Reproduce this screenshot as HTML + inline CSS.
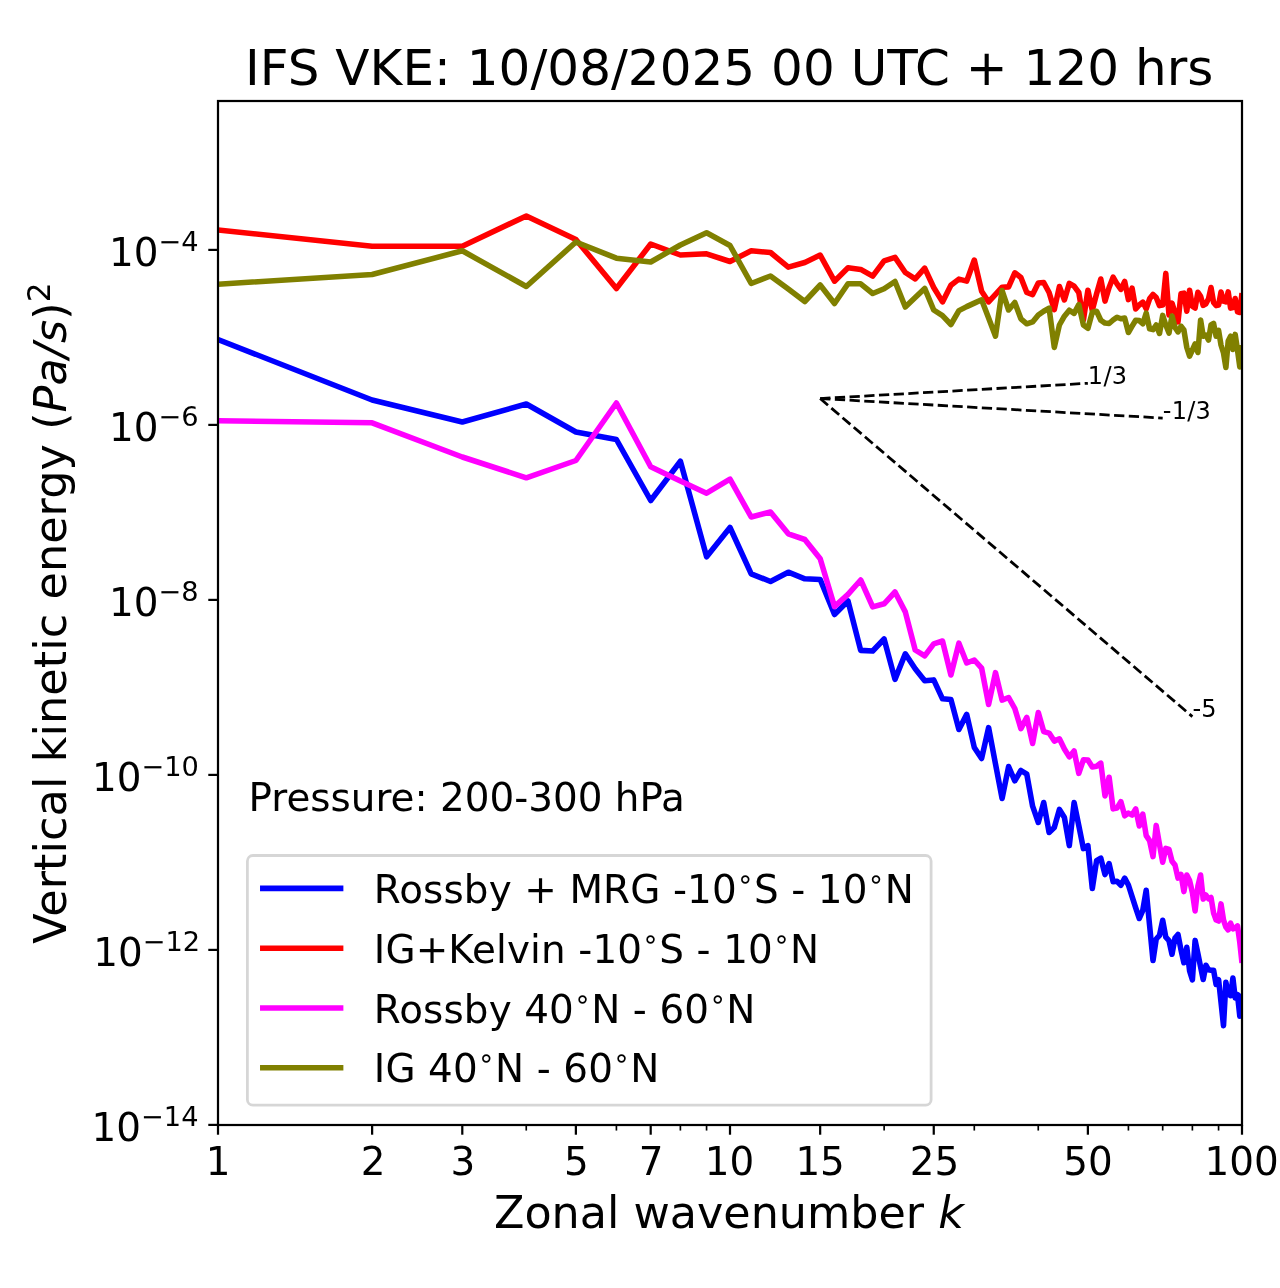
<!DOCTYPE html><html><head><meta charset="utf-8"><title>IFS VKE</title>
<style>html,body{margin:0;padding:0;background:#fff}svg{display:block}text{font-family:"DejaVu Sans","Liberation Sans",sans-serif;fill:#000}.it{font-style:italic}</style></head><body>
<svg width="1280" height="1288" viewBox="0 0 1280 1288">
<rect width="1280" height="1288" fill="#fff"/>
<defs><clipPath id="c"><rect x="218" y="101" width="1024" height="1024"/></clipPath></defs>
<g clip-path="url(#c)" fill="none" stroke-linejoin="round" stroke-linecap="butt">
<polyline points="218.0,339.5 372.1,400.0 462.3,422.0 526.3,404.0 575.9,432.0 616.4,439.5 650.7,500.5 680.4,461.2 706.6,556.8 730.0,527.5 751.2,573.8 770.5,581.5 788.3,572.2 804.8,578.8 820.2,579.5 834.5,614.5 848.0,601.0 860.7,650.4 872.7,651.0 884.1,639.0 895.0,679.4 905.3,653.8 915.2,668.8 924.7,680.8 933.7,679.9 942.5,698.8 950.9,699.4 958.9,729.5 966.7,714.4 974.3,747.5 981.6,758.5 988.6,727.6 995.5,764.0 1002.1,798.4 1008.6,766.5 1014.8,780.8 1020.9,770.5 1026.8,774.2 1032.6,806.2 1038.3,822.5 1043.7,802.5 1049.1,832.5 1054.3,827.5 1059.4,809.4 1064.4,817.5 1069.3,845.6 1074.1,802.5 1078.8,825.6 1083.4,848.6 1087.9,845.6 1092.3,888.5 1096.6,860.6 1100.8,858.1 1105.0,874.6 1109.1,863.5 1113.1,881.7 1117.0,881.2 1120.9,885.2 1124.7,878.1 1128.4,885.0 1132.1,896.6 1135.7,907.9 1139.3,918.5 1142.8,910.3 1146.2,890.2 1149.6,925.4 1153.0,960.5 1156.2,939.0 1159.5,935.3 1162.7,920.3 1165.8,937.2 1169.0,940.6 1172.0,954.3 1175.0,938.1 1178.0,934.5 1181.0,950.0 1183.9,962.8 1186.8,947.2 1189.6,971.0 1192.4,979.8 1195.1,940.4 1197.9,953.6 1200.6,967.0 1203.2,979.5 1205.9,965.2 1208.5,969.8 1211.0,970.3 1213.6,970.3 1216.1,984.4 1218.6,979.7 1221.0,1002.0 1223.5,1025.7 1225.9,982.2 1228.2,994.2 1230.6,995.7 1232.9,978.0 1235.2,998.0 1237.5,994.6 1239.8,1016.2 1242.0,993.5" stroke="#0000ff" stroke-width="5.56" />
<polyline points="218.0,230.0 372.1,246.2 462.3,246.2 526.3,216.0 575.9,239.5 616.4,288.5 650.7,244.0 680.4,255.0 706.6,253.8 730.0,261.5 751.2,250.8 770.5,252.5 788.3,267.2 804.8,262.5 820.2,255.1 834.5,281.2 848.0,267.8 860.7,269.4 872.7,276.2 884.1,260.9 895.0,257.4 905.3,272.5 915.2,278.9 924.7,268.1 933.7,287.5 942.5,301.9 950.9,285.3 958.9,279.1 966.7,281.1 974.3,260.0 981.6,291.2 988.6,301.9 995.5,294.4 1002.1,287.2 1008.6,286.9 1014.8,272.8 1020.9,277.5 1026.8,292.5 1032.6,294.6 1038.3,283.1 1043.7,282.5 1049.1,292.5 1054.3,309.6 1059.4,286.5 1064.4,300.0 1069.3,283.4 1074.1,286.2 1078.8,292.5 1083.4,320.0 1087.9,290.2 1092.3,310.3 1096.6,293.8 1100.8,279.0 1105.0,301.1 1109.1,287.5 1113.1,277.2 1117.0,283.8 1120.9,289.4 1124.7,281.5 1128.4,299.6 1132.1,288.1 1135.7,309.0 1139.3,305.0 1142.8,302.1 1146.2,308.8 1149.6,298.8 1153.0,294.4 1156.2,297.5 1159.5,305.6 1162.7,305.0 1165.8,273.4 1169.0,315.0 1172.0,303.1 1175.0,312.5 1178.0,321.9 1181.0,293.8 1183.9,293.1 1186.8,311.2 1189.6,290.2 1192.4,306.2 1195.1,308.1 1197.9,292.2 1200.6,296.2 1203.2,305.4 1205.9,303.8 1208.5,298.8 1211.0,287.5 1213.6,302.5 1216.1,305.6 1218.6,305.0 1221.0,292.1 1223.5,301.2 1225.9,301.9 1228.2,291.9 1230.6,308.1 1232.9,307.5 1235.2,298.5 1237.5,311.9 1239.8,312.5 1242.0,293.0" stroke="#ff0000" stroke-width="5.56" />
<polyline points="218.0,420.8 372.1,422.8 462.3,457.0 526.3,477.8 575.9,460.5 616.4,403.0 650.7,466.8 680.4,481.0 706.6,493.2 730.0,479.2 751.2,517.0 770.5,512.0 788.3,533.8 804.8,539.5 820.2,558.8 834.5,606.6 848.0,594.4 860.7,580.0 872.7,606.9 884.1,603.8 895.0,592.0 905.3,611.9 915.2,650.0 924.7,655.9 933.7,643.8 942.5,641.0 950.9,675.0 958.9,643.2 966.7,663.0 974.3,660.0 981.6,668.1 988.6,704.5 995.5,672.6 1002.1,700.1 1008.6,697.5 1014.8,708.5 1020.9,728.6 1026.8,717.4 1032.6,743.5 1038.3,712.6 1043.7,731.6 1049.1,733.1 1054.3,741.1 1059.4,738.8 1064.4,749.0 1069.3,756.9 1074.1,750.9 1078.8,773.4 1083.4,759.8 1087.9,760.0 1092.3,766.9 1096.6,766.2 1100.8,763.1 1105.0,796.0 1109.1,777.2 1113.1,808.9 1117.0,808.1 1120.9,801.6 1124.7,815.8 1128.4,813.1 1132.1,815.0 1135.7,808.9 1139.3,826.0 1142.8,814.1 1146.2,835.6 1149.6,840.6 1153.0,856.6 1156.2,825.4 1159.5,844.5 1162.7,862.2 1165.8,848.4 1169.0,849.4 1172.0,861.2 1175.0,865.0 1178.0,878.1 1181.0,874.4 1183.9,891.6 1186.8,875.0 1189.6,880.6 1192.4,892.5 1195.1,910.9 1197.9,886.2 1200.6,875.0 1203.2,899.1 1205.9,895.0 1208.5,898.8 1211.0,897.5 1213.6,913.0 1216.1,920.0 1218.6,921.0 1221.0,903.9 1223.5,920.0 1225.9,927.0 1228.2,929.9 1230.6,923.2 1232.9,928.8 1235.2,928.0 1237.5,925.9 1239.8,942.4 1242.0,963.0" stroke="#ff00ff" stroke-width="5.56" />
<polyline points="218.0,284.2 372.1,274.5 462.3,250.8 526.3,286.5 575.9,242.0 616.4,258.2 650.7,262.0 680.4,245.0 706.6,232.8 730.0,245.5 751.2,283.5 770.5,276.0 788.3,289.0 804.8,301.5 820.2,285.0 834.5,303.5 848.0,283.8 860.7,283.8 872.7,293.5 884.1,288.8 895.0,281.5 905.3,307.0 915.2,297.5 924.7,288.4 933.7,310.0 942.5,315.6 950.9,324.5 958.9,310.6 966.7,306.6 974.3,303.1 981.6,299.8 988.6,318.0 995.5,336.2 1002.1,290.6 1008.6,310.0 1014.8,302.5 1020.9,318.8 1026.8,323.8 1032.6,321.9 1038.3,315.0 1043.7,311.2 1049.1,308.2 1054.3,347.5 1059.4,325.0 1064.4,316.2 1069.3,310.2 1074.1,313.4 1078.8,304.6 1083.4,325.0 1087.9,328.4 1092.3,312.2 1096.6,311.3 1100.8,320.3 1105.0,323.1 1109.1,323.5 1113.1,320.0 1117.0,317.2 1120.9,318.8 1124.7,318.1 1128.4,332.5 1132.1,326.2 1135.7,320.2 1139.3,320.6 1142.8,323.8 1146.2,313.1 1149.6,328.8 1153.0,329.6 1156.2,325.0 1159.5,333.5 1162.7,315.4 1165.8,325.0 1169.0,333.1 1172.0,316.0 1175.0,327.5 1178.0,331.9 1181.0,326.2 1183.9,330.0 1186.8,347.5 1189.6,356.2 1192.4,350.0 1195.1,344.0 1197.9,352.5 1200.6,320.0 1203.2,336.2 1205.9,335.0 1208.5,340.0 1211.0,325.0 1213.6,323.5 1216.1,336.2 1218.6,330.4 1221.0,345.0 1223.5,353.0 1225.9,367.5 1228.2,341.0 1230.6,336.2 1232.9,349.4 1235.2,334.4 1237.5,350.0 1239.8,366.9 1242.0,345.0" stroke="#808000" stroke-width="5.56" />
<line x1="820.159" y1="398.56" x2="1087.87" y2="383.3" stroke="#000" stroke-width="2.78" stroke-dasharray="10.28 4.44"/>
<line x1="820.159" y1="398.56" x2="1162.69" y2="418.07" stroke="#000" stroke-width="2.78" stroke-dasharray="10.28 4.44"/>
<line x1="820.159" y1="398.56" x2="1192.38" y2="716.6" stroke="#000" stroke-width="2.78" stroke-dasharray="10.28 4.44"/>
</g>
<rect x="218" y="101" width="1024" height="1024" fill="none" stroke="#000" stroke-width="2.22"/>
<line x1="218.00" x2="218.00" y1="1125" y2="1134.72" stroke="#000" stroke-width="2.22"/>
<text x="218.06" y="1175.2" font-size="38.89" text-anchor="middle">1</text>
<line x1="372.13" x2="372.13" y1="1125" y2="1134.72" stroke="#000" stroke-width="2.22"/>
<text x="373.05" y="1175.2" font-size="38.89" text-anchor="middle">2</text>
<line x1="462.29" x2="462.29" y1="1125" y2="1134.72" stroke="#000" stroke-width="2.22"/>
<text x="462.77" y="1175.2" font-size="38.89" text-anchor="middle">3</text>
<line x1="575.87" x2="575.87" y1="1125" y2="1134.72" stroke="#000" stroke-width="2.22"/>
<text x="576.47" y="1175.2" font-size="38.89" text-anchor="middle">5</text>
<line x1="650.69" x2="650.69" y1="1125" y2="1134.72" stroke="#000" stroke-width="2.22"/>
<text x="651.16" y="1175.2" font-size="38.89" text-anchor="middle">7</text>
<line x1="730.00" x2="730.00" y1="1125" y2="1134.72" stroke="#000" stroke-width="2.22"/>
<text x="729.55" y="1175.2" font-size="38.89" text-anchor="middle">10</text>
<line x1="820.16" x2="820.16" y1="1125" y2="1134.72" stroke="#000" stroke-width="2.22"/>
<text x="820.12" y="1175.2" font-size="38.89" text-anchor="middle">15</text>
<line x1="933.75" x2="933.75" y1="1125" y2="1134.72" stroke="#000" stroke-width="2.22"/>
<text x="934.43" y="1175.2" font-size="38.89" text-anchor="middle">25</text>
<line x1="1087.87" x2="1087.87" y1="1125" y2="1134.72" stroke="#000" stroke-width="2.22"/>
<text x="1088.06" y="1175.2" font-size="38.89" text-anchor="middle">50</text>
<line x1="1242.00" x2="1242.00" y1="1125" y2="1134.72" stroke="#000" stroke-width="2.22"/>
<text x="1241.55" y="1175.2" font-size="38.89" text-anchor="middle">100</text>
<line x1="526.25" x2="526.25" y1="1125" y2="1130.56" stroke="#000" stroke-width="1.67"/>
<line x1="616.41" x2="616.41" y1="1125" y2="1130.56" stroke="#000" stroke-width="1.67"/>
<line x1="680.38" x2="680.38" y1="1125" y2="1130.56" stroke="#000" stroke-width="1.67"/>
<line x1="706.57" x2="706.57" y1="1125" y2="1130.56" stroke="#000" stroke-width="1.67"/>
<line x1="884.13" x2="884.13" y1="1125" y2="1130.56" stroke="#000" stroke-width="1.67"/>
<line x1="974.29" x2="974.29" y1="1125" y2="1130.56" stroke="#000" stroke-width="1.67"/>
<line x1="1038.25" x2="1038.25" y1="1125" y2="1130.56" stroke="#000" stroke-width="1.67"/>
<line x1="1128.41" x2="1128.41" y1="1125" y2="1130.56" stroke="#000" stroke-width="1.67"/>
<line x1="1162.69" x2="1162.69" y1="1125" y2="1130.56" stroke="#000" stroke-width="1.67"/>
<line x1="1192.38" x2="1192.38" y1="1125" y2="1130.56" stroke="#000" stroke-width="1.67"/>
<line x1="1218.57" x2="1218.57" y1="1125" y2="1130.56" stroke="#000" stroke-width="1.67"/>
<line x1="208.28" x2="218" y1="1124.90" y2="1124.90" stroke="#000" stroke-width="2.22"/>
<text x="198.5" y="1141.10" font-size="38.89" text-anchor="end">10<tspan font-size="27.22" dy="-15.3">−14</tspan></text>
<line x1="208.28" x2="218" y1="949.90" y2="949.90" stroke="#000" stroke-width="2.22"/>
<text x="200.1" y="966.10" font-size="38.89" text-anchor="end">10<tspan font-size="27.22" dy="-15.3">−12</tspan></text>
<line x1="208.28" x2="218" y1="774.90" y2="774.90" stroke="#000" stroke-width="2.22"/>
<text x="198.9" y="791.10" font-size="38.89" text-anchor="end">10<tspan font-size="27.22" dy="-15.3">−10</tspan></text>
<line x1="208.28" x2="218" y1="599.90" y2="599.90" stroke="#000" stroke-width="2.22"/>
<text x="198.5" y="616.10" font-size="38.89" text-anchor="end">10<tspan font-size="27.22" dy="-15.3">−8</tspan></text>
<line x1="208.28" x2="218" y1="424.90" y2="424.90" stroke="#000" stroke-width="2.22"/>
<text x="198.5" y="441.10" font-size="38.89" text-anchor="end">10<tspan font-size="27.22" dy="-15.3">−6</tspan></text>
<line x1="208.28" x2="218" y1="249.90" y2="249.90" stroke="#000" stroke-width="2.22"/>
<text x="198.5" y="266.10" font-size="38.89" text-anchor="end">10<tspan font-size="27.22" dy="-15.3">−4</tspan></text>
<text x="729.2" y="84.5" font-size="50" text-anchor="middle" letter-spacing="0.02">IFS VKE: 10/08/2025 00 UTC + 120 hrs</text>
<text x="729" y="1228" font-size="44.44" text-anchor="middle">Zonal wavenumber <tspan class="it">k</tspan></text>
<text transform="translate(65.8 943.8) rotate(-90)" font-size="44.44" text-anchor="start" letter-spacing="0.11">Vertical kinetic energy (<tspan class="it">Pa</tspan><tspan class="it">/</tspan><tspan class="it">s</tspan>)<tspan font-size="31.1" dy="-16.1">2</tspan></text>
<text x="248.5" y="810.6" font-size="38.89">Pressure: 200-300 hPa</text>
<text x="1087.87" y="383.7" font-size="24" letter-spacing="0.3">1/3</text>
<text x="1162.69" y="418.5" font-size="24" letter-spacing="0.3">-1/3</text>
<text x="1192.38" y="717" font-size="24" letter-spacing="0.3">-5</text>
<rect x="247.4" y="855.5" width="683.7" height="249.7" rx="5.5" ry="5.5" fill="#fff" fill-opacity="0.8" stroke="#cccccc" stroke-opacity="0.8" stroke-width="2.78"/>
<line x1="262.8" x2="340.6" y1="888.4" y2="888.4" stroke="#0000ff" stroke-width="5.56" stroke-linecap="square"/>
<text x="373.8" y="903" font-size="38.89" letter-spacing="0.12">Rossby + MRG -10<tspan font-size="27.22" dy="-15.1">∘</tspan><tspan dy="15.1">S - 10</tspan><tspan font-size="27.22" dy="-15.1">∘</tspan><tspan dy="15.1">N</tspan></text>
<line x1="262.8" x2="340.6" y1="948.2" y2="948.2" stroke="#ff0000" stroke-width="5.56" stroke-linecap="square"/>
<text x="373.8" y="962.8" font-size="38.89" letter-spacing="0.12">IG+Kelvin -10<tspan font-size="27.22" dy="-15.1">∘</tspan><tspan dy="15.1">S - 10</tspan><tspan font-size="27.22" dy="-15.1">∘</tspan><tspan dy="15.1">N</tspan></text>
<line x1="262.8" x2="340.6" y1="1008" y2="1008" stroke="#ff00ff" stroke-width="5.56" stroke-linecap="square"/>
<text x="373.8" y="1022.6" font-size="38.89" letter-spacing="0.12">Rossby 40<tspan font-size="27.22" dy="-15.1">∘</tspan><tspan dy="15.1">N - 60</tspan><tspan font-size="27.22" dy="-15.1">∘</tspan><tspan dy="15.1">N</tspan></text>
<line x1="262.8" x2="340.6" y1="1067.8" y2="1067.8" stroke="#808000" stroke-width="5.56" stroke-linecap="square"/>
<text x="373.8" y="1082.4" font-size="38.89" letter-spacing="0.12">IG 40<tspan font-size="27.22" dy="-15.1">∘</tspan><tspan dy="15.1">N - 60</tspan><tspan font-size="27.22" dy="-15.1">∘</tspan><tspan dy="15.1">N</tspan></text>
</svg></body></html>
